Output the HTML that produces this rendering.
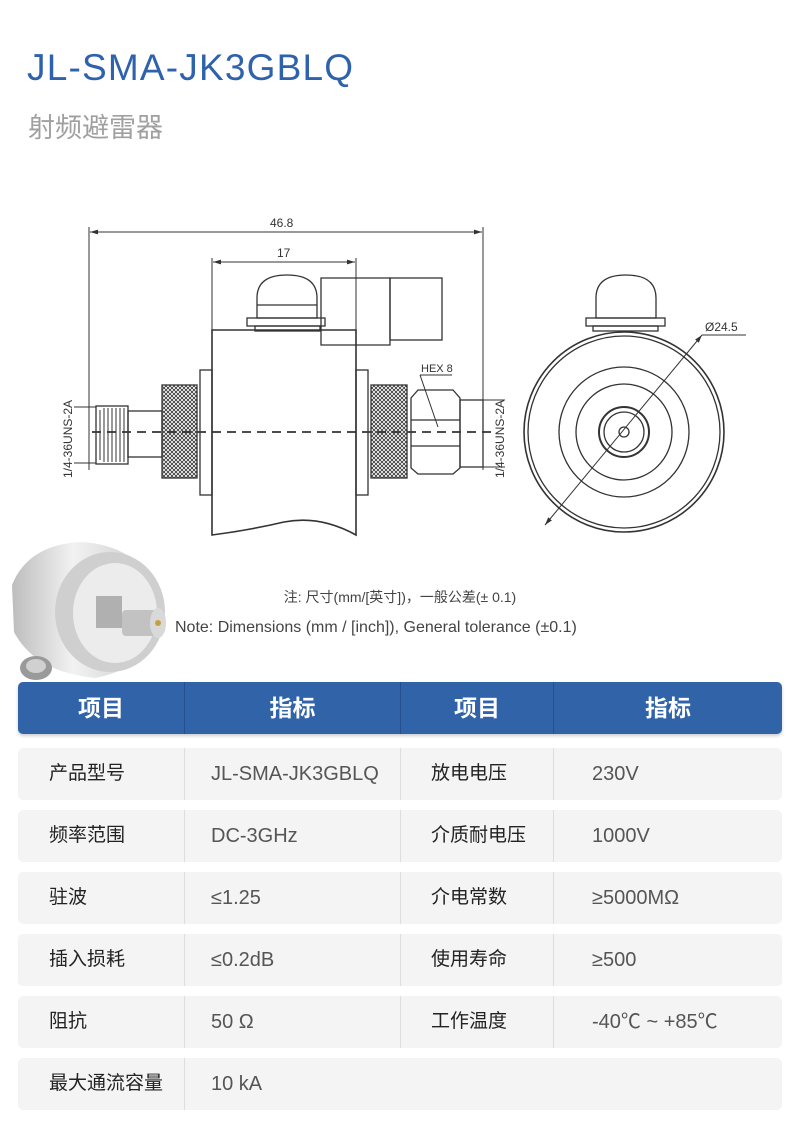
<!DOCTYPE html>
<html><head><meta charset="utf-8"><style>
*{margin:0;padding:0;box-sizing:border-box}
body{width:800px;height:1126px;background:#fff;position:relative;overflow:hidden;font-family:"Liberation Sans","Noto Sans CJK SC",sans-serif}
.t{position:absolute;left:27px;top:47px;font-size:37px;color:#2f62ad;letter-spacing:1.2px}
.s{position:absolute;left:28px;top:106px;font-size:27px;color:#a0a0a0}
.n1{position:absolute;left:0;width:800px;text-align:center;top:587px;font-size:14px;color:#444}
.n2{position:absolute;left:175px;top:619px;font-size:16px;color:#444}
.hd{position:absolute;left:18px;top:682px;width:764px;height:52px;background:#3163a8;border-radius:5px;box-shadow:0 2px 3px rgba(0,0,0,.2)}
.row{position:absolute;left:18px;width:764px;height:52px;background:#f4f4f4;border-radius:5px}
.c{position:absolute;top:0;height:52px;line-height:52px}
.hd .c{color:#fff;font-size:23px;font-weight:bold;text-align:center;border-right:1px solid #24508f}
.row .c{font-size:19px;color:#222}
.row .v{color:#555;font-size:20px}
.bd{border-right:1px solid #ddd}
</style></head><body>
<div class="t">JL-SMA-JK3GBLQ</div>
<div class="s">射频避雷器</div>
<svg width="800" height="700" style="position:absolute;left:0;top:0" viewBox="0 0 800 700">
<defs>
<pattern id="k" width="4" height="4" patternUnits="userSpaceOnUse"><path d="M0 0L4 4M4 0L0 4" stroke="#333" stroke-width="0.8"/></pattern>
<marker id="a" viewBox="0 0 10 10" refX="10" refY="5" markerWidth="8" markerHeight="8" orient="auto-start-reverse"><path d="M0 2L10 5L0 8z" fill="#333"/></marker>
<linearGradient id="g1" x1="0" y1="0" x2="1" y2="0"><stop offset="0" stop-color="#bdbdbd"/><stop offset="0.4" stop-color="#f2f2f2"/><stop offset="1" stop-color="#c4c4c4"/></linearGradient>
</defs>
<g stroke="#333" stroke-width="1.3" fill="none" font-family="Liberation Sans,sans-serif">
<line x1="89" y1="227" x2="89" y2="470" stroke-width="1"/>
<line x1="483" y1="227" x2="483" y2="470" stroke-width="1"/>
<line x1="90" y1="232" x2="482" y2="232" stroke-width="1" marker-start="url(#a)" marker-end="url(#a)"/>
<line x1="212" y1="258" x2="212" y2="330" stroke-width="1"/>
<line x1="356" y1="258" x2="356" y2="330" stroke-width="1"/>
<line x1="213" y1="262" x2="355" y2="262" stroke-width="1" marker-start="url(#a)" marker-end="url(#a)"/>
<path d="M212 330H356V535Q320 515 284 522Q250 530 212 535Z" stroke-width="1.6"/>
<rect x="200" y="370" width="12" height="125"/>
<rect x="356" y="370" width="12" height="125"/>
<rect x="162" y="385" width="35" height="93" fill="url(#k)"/>
<rect x="371" y="385" width="36" height="93" fill="url(#k)"/>
<rect x="128" y="411" width="34" height="46"/>
<rect x="96" y="406" width="32" height="58"/>
<g stroke-width="1"><path d="M100 410V460M104 408V462M108 408V462M112 408V462M116 408V462M120 408V462M124 408V462"/></g>
<path d="M411 398L418 390H453L460 398V468L453 474H418L411 468Z"/>
<line x1="411" y1="420" x2="460" y2="420"/><line x1="411" y1="446" x2="460" y2="446"/>
<rect x="460" y="400" width="23" height="67"/>
<path d="M257 318V298Q257 275 287 275Q317 275 317 298V318Z"/>
<line x1="257" y1="305" x2="317" y2="305"/>
<rect x="247" y="318" width="78" height="8"/>
<rect x="255" y="326" width="65" height="5"/>
<path d="M321 345V278H390V345Z"/>
<rect x="390" y="278" width="52" height="62"/>
<line x1="92" y1="432" x2="495" y2="432" stroke-dasharray="9,6" stroke-width="1.8"/>
<line x1="74" y1="407" x2="96" y2="407" stroke-width="1"/><line x1="74" y1="463" x2="96" y2="463" stroke-width="1"/>
<line x1="483" y1="400" x2="505" y2="400" stroke-width="1"/><line x1="483" y1="467" x2="505" y2="467" stroke-width="1"/>
<path d="M420 375H452M420 375L438 427" stroke-width="1"/>
<circle cx="624" cy="432" r="100" stroke-width="1.6"/>
<circle cx="624" cy="432" r="96"/>
<circle cx="624" cy="432" r="65"/>
<circle cx="624" cy="432" r="48"/>
<circle cx="624" cy="432" r="25" stroke-width="2"/>
<circle cx="624" cy="432" r="20"/>
<circle cx="624" cy="432" r="5"/>
<path d="M596 318V298Q596 275 626 275Q656 275 656 298V318Z"/>
<rect x="586" y="318" width="79" height="8"/>
<rect x="593" y="326" width="65" height="5"/>
<line x1="545" y1="525" x2="702" y2="335" stroke-width="1" marker-start="url(#a)" marker-end="url(#a)"/>
<line x1="702" y1="335" x2="746" y2="335" stroke-width="1"/>
</g>
<g font-family="Liberation Sans,sans-serif" font-size="12" fill="#333">
<text x="270" y="227">46.8</text>
<text x="277" y="257">17</text>
<text x="421" y="372" font-size="11">HEX 8</text>
<text x="705" y="331">Ø24.5</text>
<text transform="translate(72,478) rotate(-90)">1/4-36UNS-2A</text>
<text transform="translate(504,478) rotate(-90)">1/4-36UNS-2A</text>
</g>
<g>
<path d="M12 585Q28 545 80 542Q150 545 165 615Q150 668 95 678Q35 672 14 632Z" fill="url(#g1)"/>
<ellipse cx="110" cy="612" rx="55" ry="60" fill="#cfcfcf"/>
<ellipse cx="115" cy="613" rx="42" ry="50" fill="#ececec"/>
<rect x="96" y="596" width="26" height="32" fill="#b0b0b0"/>
<rect x="122" y="610" width="40" height="26" rx="4" fill="#c2c2c2"/>
<ellipse cx="158" cy="623" rx="8" ry="15" fill="#d9d9d9"/>
<circle cx="158" cy="623" r="3" fill="#c6a040"/>
<ellipse cx="36" cy="668" rx="16" ry="12" fill="#9a9a9a"/>
<ellipse cx="36" cy="666" rx="10" ry="7" fill="#d0d0d0"/>
</g>
</svg>
<div class="n1">注: 尺寸(mm/[英寸])，一般公差(± 0.1)</div>
<div class="n2">Note: Dimensions (mm / [inch]), General tolerance (±0.1)</div>
<div class="hd">
<div class="c" style="left:0;width:167px">项目</div>
<div class="c" style="left:167px;width:216px">指标</div>
<div class="c" style="left:383px;width:153px">项目</div>
<div class="c" style="left:536px;width:228px;border:none">指标</div>
</div>
<div class="row" style="top:748px"><div class="c bd" style="left:0;width:167px;padding-left:31px">产品型号</div><div class="c v bd" style="left:167px;width:216px;padding-left:26px">JL-SMA-JK3GBLQ</div><div class="c bd" style="left:383px;width:153px;padding-left:30px">放电电压</div><div class="c v" style="left:536px;padding-left:38px">230V</div></div>
<div class="row" style="top:810px"><div class="c bd" style="left:0;width:167px;padding-left:31px">频率范围</div><div class="c v bd" style="left:167px;width:216px;padding-left:26px">DC-3GHz</div><div class="c bd" style="left:383px;width:153px;padding-left:30px">介质耐电压</div><div class="c v" style="left:536px;padding-left:38px">1000V</div></div>
<div class="row" style="top:872px"><div class="c bd" style="left:0;width:167px;padding-left:31px">驻波</div><div class="c v bd" style="left:167px;width:216px;padding-left:26px">≤1.25</div><div class="c bd" style="left:383px;width:153px;padding-left:30px">介电常数</div><div class="c v" style="left:536px;padding-left:38px">≥5000MΩ</div></div>
<div class="row" style="top:934px"><div class="c bd" style="left:0;width:167px;padding-left:31px">插入损耗</div><div class="c v bd" style="left:167px;width:216px;padding-left:26px">≤0.2dB</div><div class="c bd" style="left:383px;width:153px;padding-left:30px">使用寿命</div><div class="c v" style="left:536px;padding-left:38px">≥500</div></div>
<div class="row" style="top:996px"><div class="c bd" style="left:0;width:167px;padding-left:31px">阻抗</div><div class="c v bd" style="left:167px;width:216px;padding-left:26px">50 Ω</div><div class="c bd" style="left:383px;width:153px;padding-left:30px">工作温度</div><div class="c v" style="left:536px;padding-left:38px">-40℃ ~ +85℃</div></div>
<div class="row" style="top:1058px"><div class="c bd" style="left:0;width:167px;padding-left:31px">最大通流容量</div><div class="c v" style="left:167px;width:216px;padding-left:26px">10 kA</div></div>
</body></html>
